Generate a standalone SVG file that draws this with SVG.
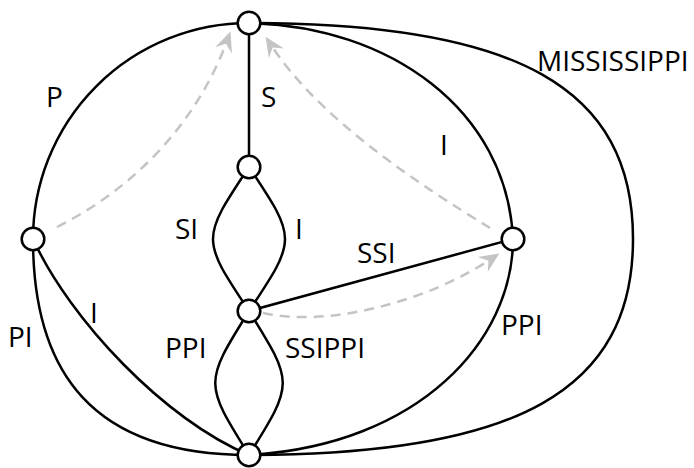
<svg xmlns="http://www.w3.org/2000/svg" width="694" height="468" viewBox="0 0 694 468">
  <style>
    .edge { fill: none; stroke: #000; stroke-width: 2.5; }
    .flow { fill: none; stroke: #c4c4c4; stroke-width: 2.5; stroke-dasharray: 10 7; }
    .node { fill: #fff; stroke: #000; stroke-width: 2.5; }
    .lbl { font-family: "Open Sans", "Noto Sans", sans-serif; font-size: 28px; fill: #000; }
  </style>
  <defs>
    <marker id="grayhead" markerUnits="userSpaceOnUse" markerWidth="30" markerHeight="30" viewBox="-15 -15 30 30" refX="0" refY="0" orient="auto">
      <path d="M10,0 L-10,-9 L-3,0 L-10,9 Z" fill="#c4c4c4"/>
    </marker>
  </defs>
  <rect width="694" height="468" fill="#fff"/>

  <g id="connectors">
    <!-- solid edges -->
    <path class="edge" d="M249,23 L249,167"/>
    <path class="edge" d="M249,23 A216,216 0 0 0 33,239"/>
    <path class="edge" d="M249,23 C390,26 507,110 513,239"/>
    <path class="edge" d="M249,23 C518,23 633,88 633,239 C633,390 518,455 249,455"/>
    <path class="edge" d="M249,167 C201,239 201,239 249,311"/>
    <path class="edge" d="M249,167 C297,239 297,239 249,311"/>
    <path class="edge" d="M249,311 L513,239"/>
    <path class="edge" d="M249,311 C204,383 204,383 249,455"/>
    <path class="edge" d="M249,311 C294,383 294,383 249,455"/>
    <path class="edge" d="M33,239 C33,372 92,455 249,455"/>
    <path class="edge" d="M33,239 C70,320 165,420 249,455"/>
    <path class="edge" d="M513,239 C513,340 420,445 249,455"/>
    <!-- dashed flow arrows -->
    <path class="flow" marker-end="url(#grayhead)" d="M57,227 C135,188 197,122 227,41"/>
    <path class="flow" marker-end="url(#grayhead)" d="M490,228 C420,185 320,120 271,45"/>
    <path class="flow" marker-end="url(#grayhead)" d="M263,313 C330,328 430,300 491,259"/>
  </g>

  <g id="labels">
    <text class="lbl" x="46" y="107">P</text>
    <text class="lbl" x="261" y="107">S</text>
    <text class="lbl" x="440" y="155">I</text>
    <text class="lbl" x="537" y="71">MISSISSIPPI</text>
    <text class="lbl" x="175" y="239">SI</text>
    <text class="lbl" x="295" y="239">I</text>
    <text class="lbl" x="357" y="263">SSI</text>
    <text class="lbl" x="90" y="323">I</text>
    <text class="lbl" x="8" y="347">PI</text>
    <text class="lbl" x="165" y="358">PPI</text>
    <text class="lbl" x="285" y="358">SSIPPI</text>
    <text class="lbl" x="501" y="335">PPI</text>
  </g>

  <g id="node-top"><circle class="node" cx="249" cy="23" r="11.3"/></g>
  <g id="node-upper"><circle class="node" cx="249" cy="167" r="11.3"/></g>
  <g id="node-left"><circle class="node" cx="33" cy="239" r="11.3"/></g>
  <g id="node-center"><circle class="node" cx="249" cy="311" r="11.3"/></g>
  <g id="node-right"><circle class="node" cx="513" cy="239" r="11.3"/></g>
  <g id="node-bottom"><circle class="node" cx="249" cy="455" r="11.3"/></g>
</svg>
